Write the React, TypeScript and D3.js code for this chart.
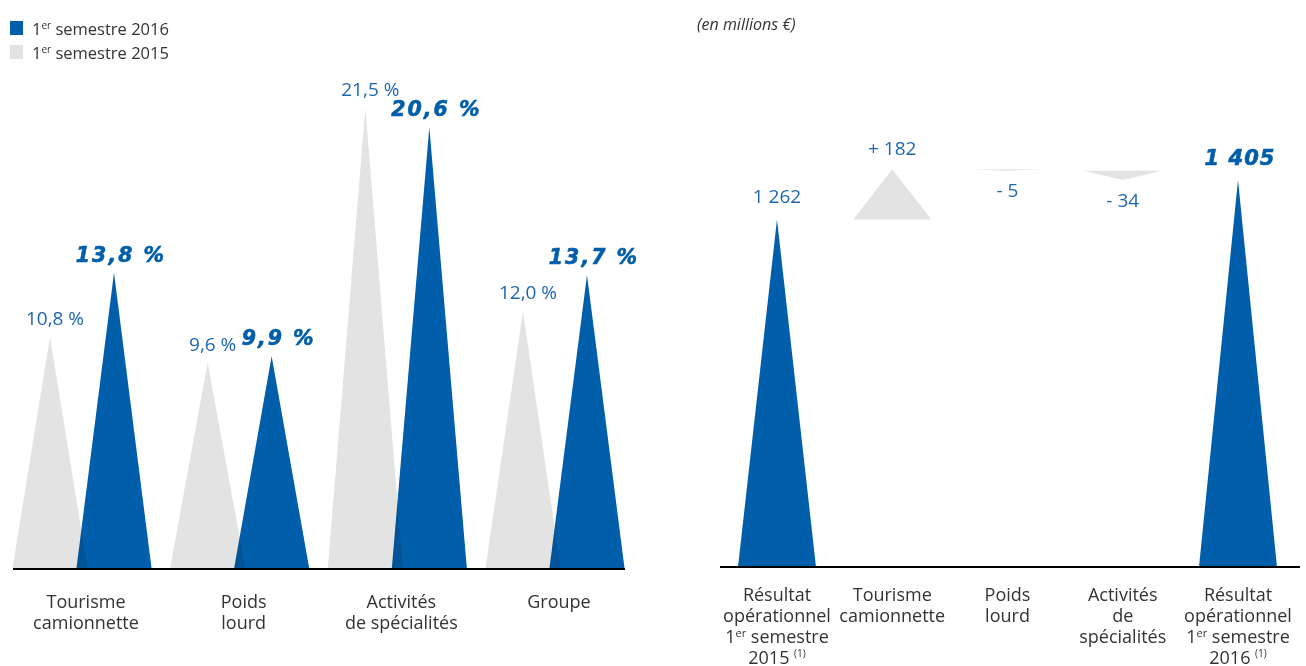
import React from "react";
import * as d3 from "d3";

const leftCategories = [["Tourisme", "camionnette"], ["Poids", "lourd"], ["Activités", "de spécialités"], ["Groupe"]];
const values2015 = [10.8, 9.6, 21.5, 12.0];
const values2016 = [13.8, 9.9, 20.6, 13.7];
const labels2015 = ["10,8 %", "9,6 %", "21,5 %", "12,0 %"];
const labels2016 = ["13,8 %", "9,9 %", "20,6 %", "13,7 %"];

const bridgeKeys = ["start", "tourisme", "poids", "activites", "end"];
const bridgeValues = [1262, 182, -5, -34, 1405];
const bridgeLabels = ["1 262", "+ 182", "- 5", "- 34", "1 405"];

const BLUE = "#005EAA";
const GRAY = "#E3E3E3";
const TEXT = "#333333";
const LABEL_BLUE = "#1F66B0";
const FONT = "'Open Sans', 'Noto Sans', sans-serif";
const BOLD_FONT = "'DejaVu Sans', sans-serif";

function tri(cx: number, half: number, yBase: number, yApex: number) {
  const p = d3.path();
  p.moveTo(cx - half, yBase);
  p.lineTo(cx, yApex);
  p.lineTo(cx + half, yBase);
  p.closePath();
  return p.toString();
}

export default function App() {
  // Left chart
  const xL = d3.scalePoint<number>().domain(d3.range(4)).range([82, 555]);
  const yL = d3.scaleLinear().domain([0, 21.5]).range([568, 108]);
  const off = 32;
  const halfL = 37.5;

  // Right chart
  const xR = d3.scalePoint<string>().domain(bridgeKeys).range([777, 1238]);
  const yR = d3.scaleLinear().domain([0, 1405]).range([567, 180]);
  const halfR = 39;

  let cum = 0;
  const bridge = bridgeValues.map((v, i) => {
    let from: number, to: number;
    const total = i === 0 || i === bridgeValues.length - 1;
    if (total) {
      from = 0;
      to = v;
      cum = v;
    } else {
      from = cum;
      to = cum + v;
      cum = to;
    }
    return { key: bridgeKeys[i], v, from, to, total };
  });

  const rightCats: React.ReactNode[][] = [
    ["Résultat", "opérationnel", <>1<tspan dy={-6} fontSize={11}>er</tspan><tspan dy={6}> semestre</tspan></>, <>2015 <tspan dy={-7} fontSize={10}>(1)</tspan></>],
    ["Tourisme", "camionnette"],
    ["Poids", "lourd"],
    ["Activités", "de", "spécialités"],
    ["Résultat", "opérationnel", <>1<tspan dy={-6} fontSize={11}>er</tspan><tspan dy={6}> semestre</tspan></>, <>2016 <tspan dy={-7} fontSize={10}>(1)</tspan></>],
  ];

  return (
    <svg width={1306} height={666} style={{ position: "absolute", left: 0, top: 0, background: "#fff" }}>
      {/* Legend */}
      <rect x={10} y={21} width={13} height={14} fill={BLUE} />
      <text x={32} y={35} fontFamily={FONT} fontSize={16.5} fill={TEXT}>
        1<tspan dy={-6} fontSize={10}>er</tspan><tspan dy={6}> semestre 2016</tspan>
      </text>
      <rect x={10} y={45} width={13} height={14} fill={GRAY} />
      <text x={32} y={59} fontFamily={FONT} fontSize={16.5} fill={TEXT}>
        1<tspan dy={-6} fontSize={10}>er</tspan><tspan dy={6}> semestre 2015</tspan>
      </text>

      {/* Left chart triangles */}
      {values2015.map((v, i) => (
        <path key={"g" + i} d={tri(xL(i)! - off, halfL, yL(0), yL(v))} fill={GRAY} />
      ))}
      {values2016.map((v, i) => (
        <path key={"b" + i} d={tri(xL(i)! + off, halfL, yL(0), yL(v))} fill={BLUE} style={{ mixBlendMode: "multiply" }} />
      ))}
      {values2015.map((v, i) => (
        <text key={"gl" + i} x={xL(i)! - off + 5} y={yL(v) - 12} textAnchor="middle" fontFamily={FONT} fontSize={19} fill={LABEL_BLUE}>
          {labels2015[i]}
        </text>
      ))}
      {values2016.map((v, i) => (
        <text key={"bl" + i} x={xL(i)! + off + 7} y={yL(v) - 11} textAnchor="middle" fontFamily={BOLD_FONT} fontWeight="bold" fontStyle="italic" fontSize={20.5} letterSpacing={2} fill={BLUE} stroke={BLUE} strokeWidth={0.6}>
          {labels2016[i]}
        </text>
      ))}
      <line x1={13} x2={625} y1={yL(0) + 1} y2={yL(0) + 1} stroke="#000" strokeWidth={2} />
      {leftCategories.map((lines, i) =>
        lines.map((l, j) => (
          <text key={"lc" + i + "-" + j} x={xL(i)! + 4} y={608 + j * 21} textAnchor="middle" fontFamily={FONT} fontSize={18} fill={TEXT}>
            {l}
          </text>
        ))
      )}

      {/* Right chart */}
      <text x={697} y={30} fontFamily={FONT} fontStyle="italic" fontSize={16} fill={TEXT}>(en millions €)</text>
      {bridge.map((b, i) => {
        const cx = xR(b.key)!;
        const d = b.total ? tri(cx, halfR, yR(0), yR(b.to)) : tri(cx, halfR, yR(b.from), yR(b.to));
        return <path key={"r" + i} d={d} fill={b.total ? BLUE : GRAY} />;
      })}
      {bridge.map((b, i) => {
        const cx = xR(b.key)!;
        const bold = i === bridge.length - 1;
        let y: number;
        if (b.total) y = yR(b.to) - (bold ? 15 : 16);
        else if (b.v > 0) y = yR(b.to) - 14;
        else y = yR(b.to) + 26.5;
        return (
          <text key={"rl" + i} x={bold ? cx + 2 : cx} y={y} textAnchor="middle"
            fontFamily={bold ? BOLD_FONT : FONT} fontWeight={bold ? "bold" : "normal"} fontStyle={bold ? "italic" : "normal"}
            fontSize={bold ? 21 : 19} letterSpacing={bold ? 1 : 0} fill={bold ? BLUE : LABEL_BLUE}
            stroke={bold ? BLUE : "none"} strokeWidth={bold ? 0.6 : 0}>
            {bridgeLabels[i]}
          </text>
        );
      })}
      <line x1={720} x2={1300} y1={yR(0)} y2={yR(0)} stroke="#000" strokeWidth={2} />
      {rightCats.map((lines, i) => {
        const cx = xR(bridgeKeys[i])!;
        return lines.map((l, j) => (
          <text key={"rc" + i + "-" + j} x={cx} y={601 + j * 21} textAnchor="middle" fontFamily={FONT} fontSize={18} fill={TEXT}>
            {l}
          </text>
        ));
      })}
    </svg>
  );
}
